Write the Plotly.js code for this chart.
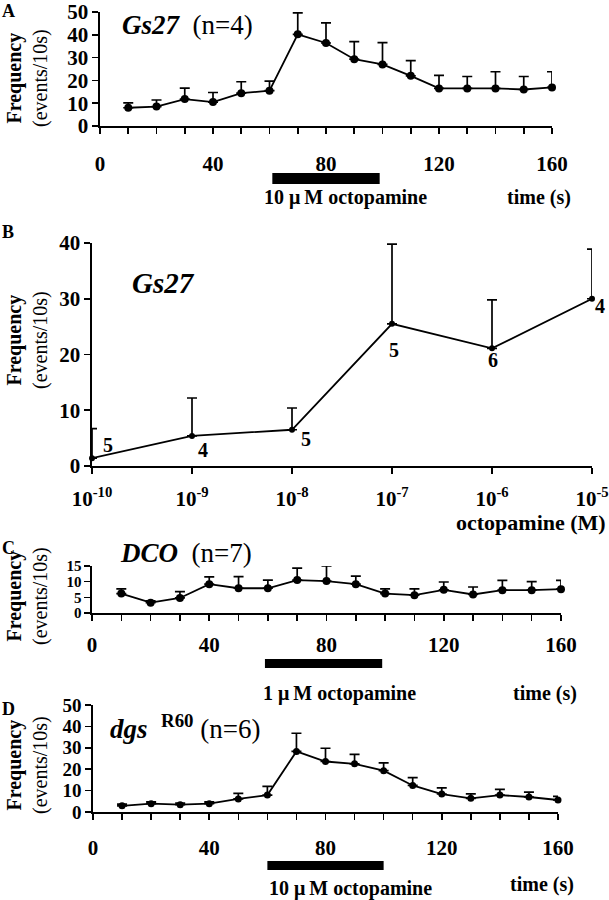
<!DOCTYPE html>
<html><head><meta charset="utf-8">
<script src="https://cdn.plot.ly/plotly-3.0.1.min.js"></script>
<style>html,body{margin:0;padding:0;background:#fff;}</style>
</head><body>
<div id="chart" style="width:609px;height:900px;"></div>
<script>
// ---------- DATA ----------
// Panel A: Gs27 (n=4), 10 µM octopamine
const timeA = [10,20,30,40,50,60,70,80,90,100,110,120,130,140,150,160];
const freqA = [8.0,8.5,11.8,10.5,14.4,15.5,40.2,36.4,29.3,27.0,22.0,16.5,16.5,16.5,16.0,16.9];
const semA  = [2.1,2.9,4.8,4.2,5.0,4.2,9.4,8.8,7.7,9.6,6.7,5.7,5.2,7.3,5.7,6.9];
const stimA = [61,99];

// Panel B: Gs27 dose response
const concB = [1e-10,1e-9,1e-8,1e-7,1e-6,1e-5];
const freqB = [1.4,5.4,6.5,25.5,21.1,30.0];
const semB  = [5.3,6.8,3.9,14.3,8.7,8.9];
const nB    = ['5','4','5','5','6','4'];
const tickTextB = ['10<sup>-10</sup>','10<sup>-9</sup>','10<sup>-8</sup>','10<sup>-7</sup>','10<sup>-6</sup>','10<sup>-5</sup>'];

// Panel C: DCO (n=7), 1 µM octopamine
const timeC = [10,20,30,40,50,60,70,80,90,100,110,120,130,140,150,160];
const freqC = [6.2,3.3,4.8,9.2,7.9,7.9,10.5,10.2,9.2,6.2,5.7,7.4,5.9,7.3,7.3,7.6];
const semC  = [1.5,0.6,2.0,2.3,3.7,2.6,3.8,4.8,2.6,1.5,2.0,2.5,2.4,3.1,2.7,2.8];
const stimC = [59,99];

// Panel D: dgs R60 (n=6), 10 µM octopamine
const timeD = [10,20,30,40,50,60,70,80,90,100,110,120,130,140,150,160];
const freqD = [2.9,3.9,3.4,3.9,6.1,7.9,28.3,23.6,22.5,19.3,12.4,8.4,6.4,7.9,7.0,5.6];
const semD  = [0.8,0.8,0.8,0.8,2.6,4.1,8.5,6.2,4.4,3.7,3.7,2.9,2.1,2.7,2.3,1.7];
const stimD = [60,100];

// ---------- STYLE / LAYOUT ----------
const W = 609, H = 900;
const F = 'Liberation Serif, Times New Roman, serif';
const px = v => v / W;           // pixel -> paper x
const py = v => 1 - v / H;       // pixel -> paper y

function series(x, y, e, xa, ya, msize) {
  return {
    type: 'scatter', mode: 'lines+markers', x: x, y: y, xaxis: xa, yaxis: ya,
    line: {color: '#000', width: 1.8},
    marker: {color: '#000', size: msize},
    error_y: {type: 'data', symmetric: false, array: e, arrayminus: e.map(() => 0),
              color: '#000', thickness: 1.7, width: 5},
    cliponaxis: false, showlegend: false, hoverinfo: 'skip'
  };
}

const data = [
  series(timeA, freqA, semA, 'x', 'y', 8),
  series(concB, freqB, semB, 'x2', 'y2', 6),
  series(timeC, freqC, semC, 'x3', 'y3', 8),
  series(timeD, freqD, semD, 'x4', 'y4', 7)
];

const tickFont = {family: F, size: 21, color: '#000', weight: 'bold'};
function axis(extra) {
  return Object.assign({
    showline: true, linecolor: '#000', linewidth: 1.6,
    ticks: 'outside', ticklen: 6, tickwidth: 1.6, tickcolor: '#000',
    showgrid: false, zeroline: false, tickfont: tickFont, fixedrange: true
  }, extra);
}
const timeMinor = {dtick: 10, tick0: 0, ticks: 'outside', ticklen: 6, tickwidth: 1.6, tickcolor: '#000', showgrid: false};

const layout = {
  width: W, height: H, margin: {l: 0, r: 0, t: 0, b: 0},
  paper_bgcolor: '#fff', plot_bgcolor: '#fff',
  font: {family: F, color: '#000'},
  showlegend: false,
  xaxis:  axis({domain: [px(100), px(552)], anchor: 'y', range: [0,160], dtick: 40, tick0: 0, minor: timeMinor, ticklabelstandoff: 12}),
  yaxis:  axis({domain: [py(126), py(12)], anchor: 'x', range: [0,50], dtick: 10}),
  xaxis2: axis({domain: [px(92), px(592)], anchor: 'y2', type: 'log', range: [-10,-5], tickvals: concB, ticktext: tickTextB, ticklabelstandoff: 7}),
  yaxis2: axis({domain: [py(466), py(243)], anchor: 'x2', range: [0,40], dtick: 10}),
  xaxis3: axis({domain: [px(92), px(561)], anchor: 'y3', range: [0,160], dtick: 40, tick0: 0, minor: timeMinor, ticklabelstandoff: 6}),
  yaxis3: axis({domain: [py(613), py(566)], anchor: 'x3', range: [0,15], dtick: 5, tickfont: Object.assign({}, tickFont, {size: 15})}),
  xaxis4: axis({domain: [px(93), px(558)], anchor: 'y4', range: [0,160], dtick: 40, tick0: 0, minor: timeMinor, ticklabelstandoff: 10}),
  yaxis4: axis({domain: [py(812), py(705)], anchor: 'x4', range: [0,50], dtick: 10, tickfont: Object.assign({}, tickFont, {size: 19})}),
  shapes: [
    {type: 'rect', xref: 'x',  yref: 'paper', x0: stimA[0], x1: stimA[1], y0: py(184), y1: py(173), fillcolor: '#000', line: {width: 0}},
    {type: 'rect', xref: 'x3', yref: 'paper', x0: stimC[0], x1: stimC[1], y0: py(668), y1: py(659), fillcolor: '#000', line: {width: 0}},
    {type: 'rect', xref: 'x4', yref: 'paper', x0: stimD[0], x1: stimD[1], y0: py(870), y1: py(861), fillcolor: '#000', line: {width: 0}}
  ],
  annotations: []
};

const A = layout.annotations;
function note(text, x, y, size, opts) {
  A.push(Object.assign({text: text, xref: 'paper', yref: 'paper', x: px(x), y: py(y),
    xanchor: 'center', yanchor: 'middle', showarrow: false,
    font: {family: F, size: size, color: '#000'}}, opts || {}));
}
const NB = '\u00a0';
const TH = '\u2009';
// panel letters
note('<b>A</b>', 8, 11, 18);
note('<b>B</b>', 8, 232, 18);
note('<b>C</b>', 8, 548, 18);
note('<b>D</b>', 8, 709, 18);
// y titles
const yTitle = '<b>Frequency</b><br>(events/10s)';
note(yTitle, 27, 78, 20, {textangle: -90});
note(yTitle, 27, 340, 20, {textangle: -90});
note(yTitle, 27, 596, 20, {textangle: -90});
note(yTitle, 27, 765, 20, {textangle: -90});
// genotype labels
note('<b><i>Gs27</i></b>' + NB + NB + '(n=4)', 120, 25, 27, {xanchor: 'left'});
note('<b><i>Gs27</i></b>', 130, 283, 29, {xanchor: 'left'});
note('<b><i>DCO</i></b>' + NB + NB + '(n=7)', 118, 553, 27, {xanchor: 'left'});
note('<b><i>dgs</i></b>' + NB + NB + '<sup><b>R60</b></sup>' + NB + '(n=6)', 108, 727, 27, {xanchor: 'left'});
// stimulus and x-axis labels
note('<b>10 \u03bc' + TH + 'M octopamine</b>', 345, 198, 20);
note('<b>time (s)</b>', 539, 197, 20);
note('<b>octopamine (M)</b>', 608, 522, 22, {xanchor: 'right'});
note('<b>1 \u03bc' + TH + 'M octopamine</b>', 339, 693, 20);
note('<b>time (s)</b>', 545, 693, 20);
note('<b>10 \u03bc' + TH + 'M octopamine</b>', 350, 888, 20);
note('<b>time (s)</b>', 542, 884, 20);
// n labels for panel B (offsets in px from each point)
const nOffB = [[16,13],[11,-14],[14,-9],[2,-26],[1,-12],[8,-7]];
concB.forEach((c, i) => {
  A.push({text: '<b>' + nB[i] + '</b>', xref: 'x2', yref: 'y2', x: Math.log10(c), y: freqB[i],
    xshift: nOffB[i][0], yshift: nOffB[i][1], showarrow: false,
    font: {family: F, size: 20, color: '#000'}});
});

Plotly.newPlot('chart', data, layout, {displayModeBar: false, staticPlot: true});
</script>
</body></html>
